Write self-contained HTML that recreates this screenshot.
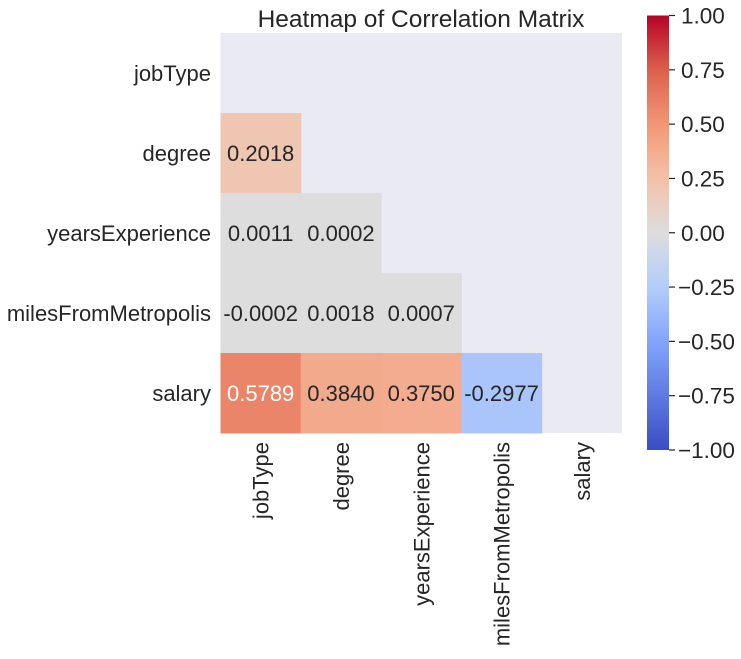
<!DOCTYPE html>
<html><head><meta charset="utf-8"><style>
body{margin:0;background:#fff;}
svg text{font-family:"Liberation Sans",Arial,sans-serif;fill:#262626;}
</style></head><body>
<svg id="chart" width="741" height="654">
<defs><linearGradient id="cbg" x1="0" y1="1" x2="0" y2="0"></linearGradient></defs>
<text x="421" y="27" font-size="24.5" text-anchor="middle">Heatmap of Correlation Matrix</text>
<rect x="220.5" y="33" width="401.5" height="400" fill="#eaeaf2"/>
<g id="cells"></g><g id="labels"></g><g id="cbar"></g>
</svg>
<script>
const variables=["jobType","degree","yearsExperience","milesFromMetropolis","salary"];
const corrRow1=[0.2018];
const corrRow2=[0.0011,0.0002];
const corrRow3=[-0.0002,0.0018,0.0007];
const corrRow4=[0.5789,0.3840,0.3750,-0.2977];
const cbarTicks=[1.00,0.75,0.50,0.25,0.00,-0.25,-0.50,-0.75,-1.00];
const rows=[[],corrRow1,corrRow2,corrRow3,corrRow4];
const NS="http://www.w3.org/2000/svg";
const X0=220.5,Y0=33,CW=80.3,CH=80;
const anchors=[[0,58,76,193],[0.125,94,123,226],[0.25,130,165,251],[0.375,179,205,250],[0.5,221,221,221],[0.625,243,193,167],[0.75,242,150,118],[0.875,220,96,76],[1,180,4,38]];
function cmap(v){const t=(v+1)/2;for(let i=0;i<anchors.length-1;i++){const a=anchors[i],b=anchors[i+1];if(t>=a[0]&&t<=b[0]){const f=(t-a[0])/(b[0]-a[0]);return `rgb(${[1,2,3].map(k=>Math.round(a[k]+(b[k]-a[k])*f)).join(',')})`;}}return 'rgb(180,4,38)';}
function xPos(j){return X0+j*CW;}
function yPos(i){return Y0+i*CH;}
function yCbar(v){return 15.5+(1-v)/2*434.5;}
function mk(tag,attrs,parent){const e=document.createElementNS(NS,tag);for(const k in attrs)e.setAttribute(k,attrs[k]);parent.appendChild(e);return e;}
const cells=document.getElementById('cells'),labels=document.getElementById('labels'),cb=document.getElementById('cbar');
rows.forEach((r,i)=>r.forEach((v,j)=>{
 const rc=mk('rect',{x:xPos(j),y:yPos(i),width:CW+0.5,height:CH+0.5,fill:cmap(v)},cells);
 
 
 const t=mk('text',{x:xPos(j)+CW/2,y:yPos(i)+CH/2+8,'font-size':22,'text-anchor':'middle'},cells);
 t.textContent=v.toFixed(4);
 if(Math.abs(v)>0.5)t.style.fill='#fff';
 
 
}));
variables.forEach((n,i)=>{
 const t=mk('text',{x:211,y:yPos(i)+CH/2+8,'font-size':22,'text-anchor':'end'},labels);
 t.textContent=n;
 
 
 const cx=xPos(i)+CW/2+8;
 const c=mk('text',{x:cx,y:442,'font-size':22,'text-anchor':'end',transform:`rotate(-90 ${cx} 442)`},labels);
 c.textContent=n;
 
 
});
const g=document.getElementById('cbg');
for(let k=0;k<=16;k++){const v=-1+k/8;mk('stop',{offset:(k/16),'stop-color':cmap(v)},g);}
const bar=mk('rect',{x:647,y:15.5,width:22,height:434.5,fill:'url(#cbg)'},cb);


cbarTicks.forEach(v=>{
 const y=yCbar(v);
 mk('line',{x1:669,x2:675,y1:y,y2:y,stroke:'#262626','stroke-width':1.2},cb);
 const t=mk('text',{x:v<0?678:681,y:y+8,'font-size':22.5},cb);
 t.textContent=(v<0?'\u2212':'')+Math.abs(v).toFixed(2);
 
 
});
</script>
</body></html>
